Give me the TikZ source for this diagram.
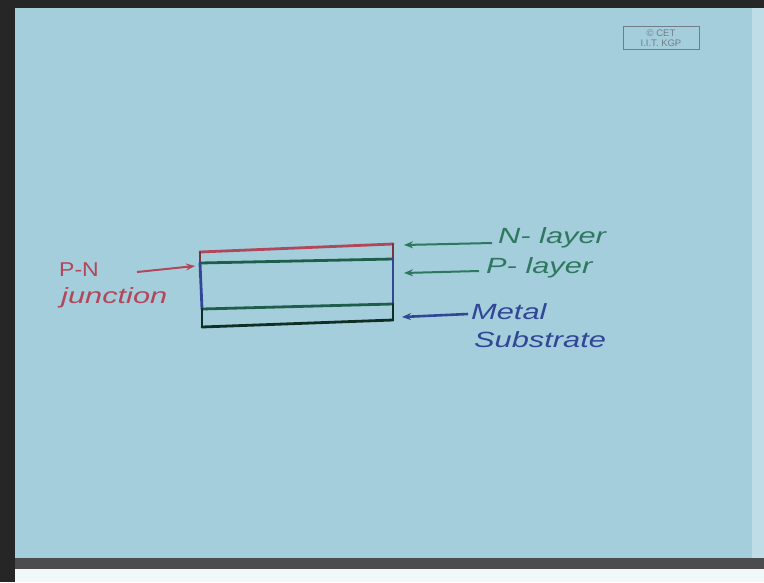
\documentclass[tikz,border=0pt]{standalone}
\usepackage{fontspec}
\usepackage{graphicx}
\setmainfont{Liberation Sans}
\usetikzlibrary{arrows.meta}
\definecolor{paper}{RGB}{164,206,220}
\definecolor{penred}{RGB}{178,70,90}
\definecolor{pengreen}{RGB}{30,95,75}
\definecolor{penblue}{RGB}{50,70,150}
\definecolor{penlgreen}{RGB}{45,120,95}
\definecolor{stamp}{RGB}{115,125,135}
\newcommand{\hand}[1]{\scalebox{1.4}[1]{#1}}
\tikzset{
  lbl/.style={font=\fontsize{22}{24}\selectfont\itshape, inner sep=1pt, anchor=west},
  pointer/.style={-{Stealth[length=9pt,width=7pt]}, line width=2pt},
  layer/.style={line width=2.8pt, line cap=round}
}
\begin{document}
\begin{tikzpicture}[x=1pt,y=-1pt]
\useasboundingbox (0,0) rectangle (764,582);
% background and frame
\fill[black!85] (0,0) rectangle (764,582);
\fill[paper] (15,8) rectangle (752,558);
\fill[paper!70!white] (752,8) rectangle (764,558);
\fill[black!70] (15,558) rectangle (764,569);
\fill[white!85!paper] (15,569) rectangle (764,582);
% stamp
\node[draw=stamp, line width=1pt, font=\fontsize{9.5}{10}\selectfont, text=stamp, align=center, minimum width=76pt, minimum height=23pt, inner sep=2pt] (stamp) at (661,38) {\copyright\ CET\\I.I.T. KGP};
% layered structure
\coordinate (tl) at (200,252);
\coordinate (tr) at (393,244);
\coordinate (jl) at (200,263);
\coordinate (jr) at (393,259);
\coordinate (ml) at (202,309);
\coordinate (mr) at (393,304);
\coordinate (bl) at (202,327);
\coordinate (br) at (393,320);
\draw[layer, penred] (tl) -- (tr);
\draw[layer, pengreen] (jl) -- (jr);
\draw[layer, pengreen] (ml) -- (mr);
\draw[layer, pengreen!50!black] (bl) -- (br);
\draw[layer, penred!70!black] (tl) -- (jl);
\draw[layer, penred!70!black] (tr) -- (jr);
\draw[layer, penblue] (jl) -- (ml);
\draw[layer, penblue] (jr) -- (mr);
\draw[layer, pengreen!50!black] (ml) -- (bl);
\draw[layer, pengreen!50!black] (mr) -- (br);
% labels
\node[lbl, text=penred, font=\fontsize{20}{22}\selectfont] (pn) at (58,270) {\scalebox{1.15}[1]{P-N}};
\node[lbl, text=penred] (junc) at (60,298) {\hand{junction}};
\node[lbl, text=penlgreen] (nl) at (497,238) {\hand{N- layer}};
\node[lbl, text=penlgreen] (pl) at (485,268) {\hand{P- layer}};
\node[lbl, text=penblue] (metal) at (470,312) {\hand{Metal}};
\node[lbl, text=penblue] (subs) at (473,340) {\hand{Substrate}};
% arrow end points
\coordinate (pnTail) at (137,272);
\coordinate (pnHead) at (195,266);
\coordinate (nTail) at (492,243);
\coordinate (nHead) at (404,245);
\coordinate (pTail) at (479,271);
\coordinate (pHead) at (404,273);
\coordinate (mTail) at (468,314);
\coordinate (mHead) at (402,317);
\draw[pointer, penred] (pnTail) -- (pnHead);
\draw[pointer, penlgreen] (nTail) -- (nHead);
\draw[pointer, penlgreen] (pTail) -- (pHead);
\draw[pointer, penblue, line width=2.6pt] (mTail) -- (mHead);
\end{tikzpicture}
\end{document}
